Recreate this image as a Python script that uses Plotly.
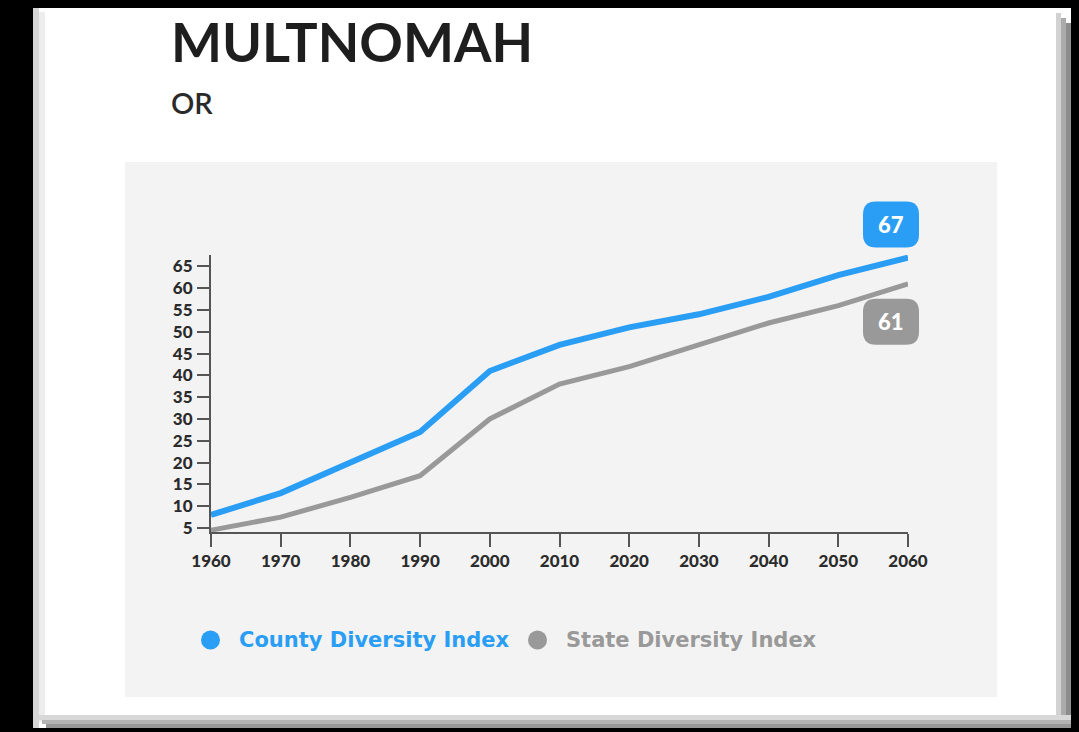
import plotly.graph_objects as go

W, H = 1079, 732

years = [1960, 1970, 1980, 1990, 2000, 2010, 2020, 2030, 2040, 2050, 2060]
county_index = [8, 13, 20, 27, 41, 47, 51, 54, 58, 63, 67]
state_index = [4.5, 7.5, 12, 17, 30, 38, 42, 47, 52, 56, 61]
y_ticks = [5, 10, 15, 20, 25, 30, 35, 40, 45, 50, 55, 60, 65]
x_ticks = years
y_range = [4.08, 67.6]
x_range = [1960, 2060]

title_text = "MULTNOMAH"
subtitle_text = "OR"
county_name = "County Diversity Index"
state_name = "State Diversity Index"

BLUE = "#2a9ef5"
GRAY = "#999999"
FONT = "Lato"


def px(x):
    return x / W


def py(y):
    return 1 - y / H


def yfrac(v):
    return (v - y_range[0]) / (y_range[1] - y_range[0])


def xfrac(v):
    return (v - x_range[0]) / (x_range[1] - x_range[0])


fig = go.Figure()

fig.add_trace(go.Scatter(
    x=years, y=county_index, mode="lines", name=county_name,
    line=dict(color=BLUE, width=6), cliponaxis=False, showlegend=False))
fig.add_trace(go.Scatter(
    x=years, y=state_index, mode="lines", name=state_name,
    line=dict(color=GRAY, width=5), cliponaxis=False, showlegend=False))

shapes = []
# card
shapes.append(dict(type="rect", xref="paper", yref="paper", x0=px(33), x1=px(1071),
                   y0=py(728), y1=py(8), fillcolor="white", line_width=0, layer="below"))
# bevels
shapes.append(dict(type="rect", xref="paper", yref="paper", x0=px(33), x1=px(39),
                   y0=py(728), y1=py(8), fillcolor="#d6d6d6", line_width=0, layer="below"))
shapes.append(dict(type="rect", xref="paper", yref="paper", x0=px(39), x1=px(45),
                   y0=py(722), y1=py(12), fillcolor="#ededed", line_width=0, layer="below"))
for x0, x1, c in [(1056, 1061, "#d2d2d2"), (1061, 1066, "#ababab"), (1066, 1071, "#8c8c8c")]:
    shapes.append(dict(type="rect", xref="paper", yref="paper", x0=px(x0), x1=px(x1),
                       y0=py(728), y1=py(8 + (x1 - 1056)), fillcolor=c, line_width=0, layer="below"))
for y0, y1, c in [(715, 720, "#d8d8d8"), (720, 724, "#b3b3b3"), (724, 728, "#979797")]:
    shapes.append(dict(type="rect", xref="paper", yref="paper", x0=px(33 + (y1 - 715)), x1=px(1071),
                       y0=py(y1), y1=py(y0), fillcolor=c, line_width=0, layer="below"))
# chart panel
shapes.append(dict(type="rect", xref="paper", yref="paper", x0=px(125), x1=px(997),
                   y0=py(697), y1=py(162), fillcolor="#f3f3f3", line_width=0, layer="below"))


def rounded_rect(cx, cy, w, h, r):
    x0, x1 = cx - w / 2, cx + w / 2
    y0, y1 = cy - h / 2, cy + h / 2
    return (f"M {x0 + r} {y0} L {x1 - r} {y0} Q {x1} {y0} {x1} {y0 + r} "
            f"L {x1} {y1 - r} Q {x1} {y1} {x1 - r} {y1} L {x0 + r} {y1} "
            f"Q {x0} {y1} {x0} {y1 - r} L {x0} {y0 + r} Q {x0} {y0} {x0 + r} {y0} Z")


# end-value badges (anchored at the last data point, unclipped)
shapes.append(dict(type="path", xref="x domain", yref="y domain", xsizemode="pixel", ysizemode="pixel",
                   xanchor=xfrac(years[-1]), yanchor=yfrac(county_index[-1]),
                   path=rounded_rect(-17, 33, 56, 46, 13), fillcolor=BLUE, line_width=0))
shapes.append(dict(type="path", xref="x domain", yref="y domain", xsizemode="pixel", ysizemode="pixel",
                   xanchor=xfrac(years[-1]), yanchor=yfrac(state_index[-1]),
                   path=rounded_rect(-17, -38, 56, 46, 13), fillcolor=GRAY, line_width=0))

# legend dots
shapes.append(dict(type="circle", xref="paper", yref="paper",
                   x0=px(201), x1=px(220), y0=py(649.5), y1=py(630.5),
                   fillcolor=BLUE, line_width=0))
shapes.append(dict(type="circle", xref="paper", yref="paper",
                   x0=px(528), x1=px(547), y0=py(649.5), y1=py(630.5),
                   fillcolor=GRAY, line_width=0))

annotations = [
    dict(text=title_text, xref="paper", yref="paper", x=px(169), y=py(41),
         xanchor="left", yanchor="middle", showarrow=False,
         font=dict(family=FONT, size=54, color="#1e1e1e", weight=700)),
    dict(text=subtitle_text, xref="paper", yref="paper", x=px(169), y=py(103),
         xanchor="left", yanchor="middle", showarrow=False,
         font=dict(family=FONT, size=29, color="#2a2a2a", weight=600)),
    dict(text=str(county_index[-1]), x=years[-1], y=county_index[-1], xref="x", yref="y",
         xshift=-17, yshift=33, showarrow=False,
         font=dict(family=FONT, size=22, color="white", weight=900)),
    dict(text=str(state_index[-1]), x=years[-1], y=state_index[-1], xref="x", yref="y",
         xshift=-17, yshift=-38, showarrow=False,
         font=dict(family=FONT, size=22, color="white", weight=900)),
    dict(text=county_name, xref="paper", yref="paper", x=px(237), y=py(640),
         xanchor="left", yanchor="middle", showarrow=False,
         font=dict(family="DejaVu Sans", size=21, color=BLUE, weight=700)),
    dict(text=state_name, xref="paper", yref="paper", x=px(564), y=py(640),
         xanchor="left", yanchor="middle", showarrow=False,
         font=dict(family="DejaVu Sans", size=21, color=GRAY, weight=700)),
]

fig.update_layout(
    template="none",
    width=W, height=H,
    autosize=False,
    margin=dict(l=0, r=0, t=0, b=0, pad=0, autoexpand=False),
    paper_bgcolor="black",
    plot_bgcolor="rgba(0,0,0,0)",
    shapes=shapes,
    annotations=annotations,
    showlegend=False,
    hovermode="x",
    xaxis=dict(
        domain=[px(211), px(908)], anchor="y", automargin=False,
        range=x_range, tickmode="array", tickvals=x_ticks,
        ticktext=[str(v) for v in x_ticks],
        showgrid=False, zeroline=False, showline=True, linecolor="#555555", linewidth=2,
        ticks="outside", ticklen=13, tickwidth=2, tickcolor="#555555",
        tickfont=dict(family=FONT, size=17, color="#2b2b2b", weight=900),
        fixedrange=True,
    ),
    yaxis=dict(
        domain=[py(532), py(255)], anchor="x", automargin=False,
        range=y_range, tickmode="array", tickvals=y_ticks,
        ticktext=[str(v) for v in y_ticks],
        showgrid=False, zeroline=False, showline=True, linecolor="#555555", linewidth=2,
        ticks="outside", ticklen=12, tickwidth=2, tickcolor="#555555",
        tickfont=dict(family=FONT, size=17, color="#2b2b2b", weight=900),
        ticklabelstandoff=1,
        fixedrange=True,
    ),
)

fig.write_html(
    "out.html",
    config={"displayModeBar": False},
    post_script="document.body.style.margin='0';document.body.style.background='black';",
)
